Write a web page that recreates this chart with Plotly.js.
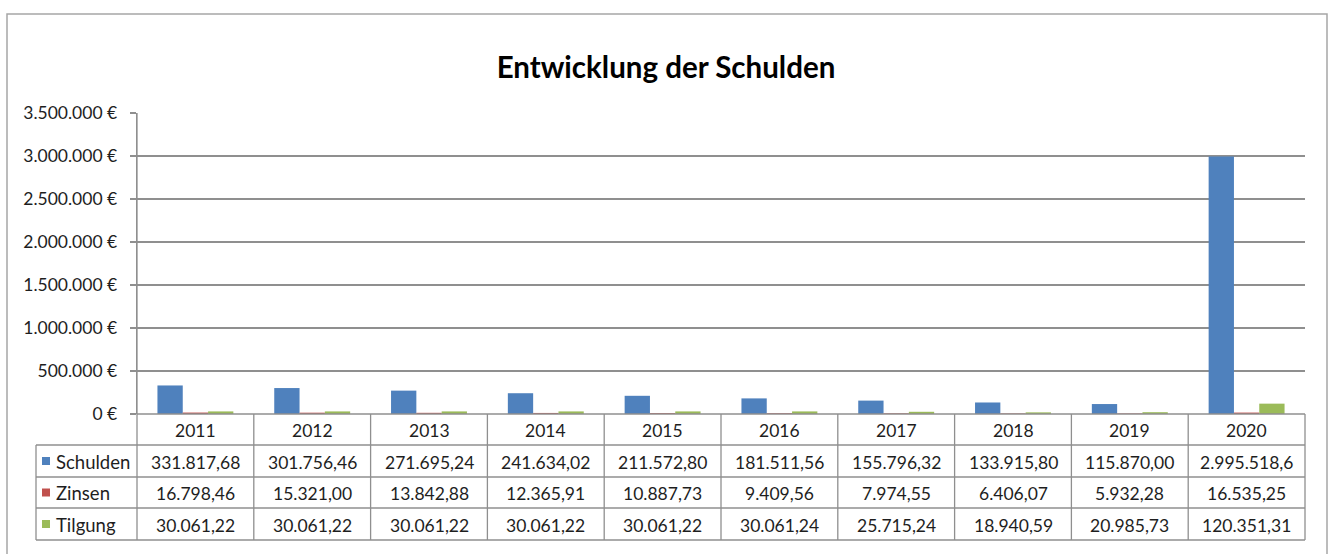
<!DOCTYPE html>
<html>
<head>
<meta charset="utf-8">
<script src="https://cdn.plot.ly/plotly-3.0.1.min.js"></script>
<style>html,body{margin:0;padding:0;background:#fff;}#chart{width:1332px;height:554px;}</style>
</head>
<body>
<div id="chart"></div>
<script>
// ---- data ----
const years = ["2011","2012","2013","2014","2015","2016","2017","2018","2019","2020"];
const schulden = [331817.68, 301756.46, 271695.24, 241634.02, 211572.80, 181511.56, 155796.32, 133915.80, 115870.00, 2995518.6];
const zinsen = [16798.46, 15321.00, 13842.88, 12365.91, 10887.73, 9409.56, 7974.55, 6406.07, 5932.28, 16535.25];
const tilgung = [30061.22, 30061.22, 30061.22, 30061.22, 30061.22, 30061.24, 25715.24, 18940.59, 20985.73, 120351.31];
const schuldenLabels = ["331.817,68","301.756,46","271.695,24","241.634,02","211.572,80","181.511,56","155.796,32","133.915,80","115.870,00","2.995.518,6"];
const zinsenLabels = ["16.798,46","15.321,00","13.842,88","12.365,91","10.887,73","9.409,56","7.974,55","6.406,07","5.932,28","16.535,25"];
const tilgungLabels = ["30.061,22","30.061,22","30.061,22","30.061,22","30.061,22","30.061,24","25.715,24","18.940,59","20.985,73","120.351,31"];
const seriesNames = ["Schulden","Zinsen","Tilgung"];
const colors = ["#4F81BD","#C0504D","#9BBB59"];

// ---- geometry ----
const W = 1332, H = 554;
const M = {l:137, r:27, t:113, b:140};
const PW = W - M.l - M.r, PH = H - M.t - M.b;
const xp = px => (px - M.l) / PW;
const yp = py => (H - M.b - py) / PH;
const FONT = "Lato, 'Open Sans', sans-serif";
const GRID = "#8f8f8f";
const TXT = "#1e1e1e";
const TFS = 17.5;

const traces = [schulden, zinsen, tilgung].map((vals, i) => ({
  type: "bar", name: seriesNames[i], x: years, y: vals,
  marker: {color: colors[i]}, hoverinfo: "x+y"
}));

const shapes = [];
const annotations = [];
const line = (x0,y0,x1,y1,c,w) => shapes.push({type:"line", xref:"paper", yref:"paper",
  x0:xp(x0), y0:yp(y0), x1:xp(x1), y1:yp(y1), line:{color:c||GRID, width:w||1.3}});

// outer chart border
shapes.push({type:"rect", xref:"paper", yref:"paper", x0:xp(7), y0:yp(14), x1:xp(1327), y1:yp(562),
  line:{color:"#a6a6a6", width:1.5}, fillcolor:"rgba(0,0,0,0)", layer:"below"});

// data table
const rowY = [414, 445, 477, 508, 540];
const tableRight = W - M.r;
line(M.l, rowY[0], tableRight, rowY[0]);
for (let k = 1; k < rowY.length; k++) line(36, rowY[k], tableRight, rowY[k]);
line(36, rowY[1], 36, rowY[4]);
line(M.l, M.t, M.l, rowY[4]);
for (let k = 1; k <= years.length; k++) {
  const x = M.l + PW * k / years.length;
  line(x, rowY[0], x, rowY[4]);
}

// year header (category index positions)
years.forEach((y, i) => annotations.push({xref:"x", yref:"paper", x:i, y:yp((rowY[0]+rowY[1])/2+1),
  text:y, showarrow:false, xanchor:"center", yanchor:"middle", font:{family:FONT, size:TFS, color:TXT}}));

const labelSets = [schuldenLabels, zinsenLabels, tilgungLabels];
labelSets.forEach((labels, r) => {
  const cy = (rowY[r+1] + rowY[r+2]) / 2;
  labels.forEach((t, i) => annotations.push({xref:"x", yref:"paper", x:i, y:yp(cy+1),
    text:t, showarrow:false, xanchor:"center", yanchor:"middle", font:{family:FONT, size:TFS, color:TXT}}));
  // legend key
  shapes.push({type:"rect", xref:"paper", yref:"paper", x0:xp(42), x1:xp(50), y0:yp(cy-4), y1:yp(cy+4),
    fillcolor:colors[r], line:{width:0}});
  annotations.push({xref:"paper", yref:"paper", x:xp(54), y:yp(cy+1), text:seriesNames[r], showarrow:false,
    xanchor:"left", yanchor:"middle", font:{family:FONT, size:18.5, color:TXT}});
});

const layout = {
  width: W, height: H,
  margin: M,
  paper_bgcolor: "#ffffff", plot_bgcolor: "#ffffff",
  separators: ",.",
  barmode: "group", bargap: 0.35, bargroupgap: 0,
  showlegend: false,
  title: {text: "<b>Entwicklung der Schulden</b>", x: 0.5, xref: "container", xanchor: "center",
    y: 1 - 68/H, yref: "container", yanchor: "middle", font: {family: FONT, size: 29.5, color: "#000000"}},
  xaxis: {type: "category", range: [-0.5, years.length - 0.5], autorange: false,
    showticklabels: false, showgrid: false, zeroline: false, showline: false, ticks: "", fixedrange: true},
  yaxis: {range: [0, 3500000], autorange: false, dtick: 500000, tick0: 0, tickformat: ",.0f", ticksuffix: " €",
    showgrid: true, gridcolor: GRID, gridwidth: 1.3, zeroline: false, showline: true, linecolor: GRID, linewidth: 1.3,
    ticks: "outside", ticklen: 6, tickcolor: GRID, tickwidth: 1.3, ticklabelstandoff: 9,
    tickfont: {family: FONT, size: 17.5, color: TXT}, fixedrange: true},
  shapes: shapes,
  annotations: annotations
};

Plotly.newPlot("chart", traces, layout, {displayModeBar: false, staticPlot: true});
</script>
</body>
</html>
